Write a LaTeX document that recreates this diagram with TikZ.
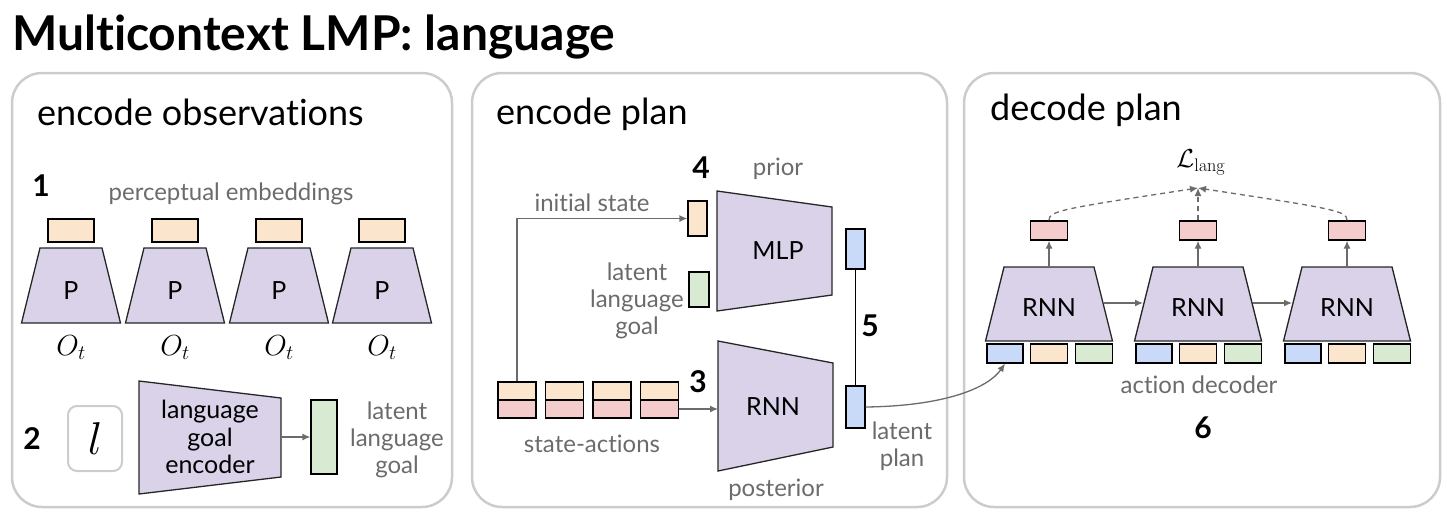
\RequirePackage{fix-cm}
\documentclass[tikz,border=0pt]{standalone}
\usepackage[no-math]{fontspec}
\setmainfont[Ligatures=NoCommon]{Lato}
\usetikzlibrary{arrows.meta}
\definecolor{cpurple}{HTML}{D9D2E9}
\definecolor{corange}{HTML}{FCE5CD}
\definecolor{cpink}{HTML}{F4CCCC}
\definecolor{cgreen}{HTML}{D9EAD3}
\definecolor{cblue}{HTML}{C9DAF8}
\definecolor{cgraytext}{HTML}{6B6B6B}
\definecolor{carrow}{HTML}{6B6B6B}
\definecolor{cpanel}{HTML}{CCCCCC}
\newcommand\mytrapv[5]{\draw[trap] (#1-#4,#2) -- (#1+#4,#2) -- (#1+#5,#3) -- (#1-#5,#3) -- cycle;}
\newcommand\mytraph[6]{\draw[trap] (#1,#3-#5) -- (#2,#4-#6) -- (#2,#4+#6) -- (#1,#3+#5) -- cycle;}
\begin{document}
\begin{tikzpicture}[x=1pt,y=-1pt,
  panel/.style={draw=cpanel,line width=2.5,rounded corners=30},
  box/.style={draw=black,line width=1.3,inner sep=0,minimum width=#1},
  trap/.style={fill=cpurple,draw=black!85,line width=1.3,line join=miter},
  lbl/.style={text=cgraytext,font=\fontsize{24}{27}\selectfont,inner sep=0,align=center},
  head/.style={font=\fontsize{36}{40}\selectfont,inner sep=0,anchor=base west},
  num/.style={font=\bfseries\fontsize{30}{34}\selectfont,inner sep=0},
  intext/.style={font=\fontsize{25}{27.5}\selectfont,inner sep=0,align=center},
  mathlbl/.style={font=\fontsize{29}{32}\selectfont,inner sep=0},
  arr/.style={draw=carrow,line width=1.3,-{Latex[length=8,width=7]}},
  darr/.style={draw=carrow,line width=1.3,dash pattern=on 5pt off 4pt,-{Latex[length=8,width=7]}}
]
\useasboundingbox (0,0) rectangle (1447,512);
% title
\node[font=\bfseries\fontsize{48}{52}\selectfont,inner sep=0,anchor=base west] (title) at (12,50) {Multicontext LMP: language};
% panels
\draw[panel] (12,73) rectangle (452,507);
\draw[panel] (472,73) rectangle (947,507);
\draw[panel] (964,73) rectangle (1440,507);
\node[head] (h1) at (37,125) {encode observations};
\node[head] (h2) at (496,124) {encode plan};
\node[head] (h3) at (990,120) {decode plan};

% ---------- encode observations ----------
\node[num] (n1) at (41,186) {1};
\node[lbl,anchor=base] (pe) at (231,200) {perceptual embeddings};
\foreach \i/\cx in {1/71,2/175,3/279,4/382}{
  \node[box=46,minimum height=23,fill=corange] (e\i) at (\cx,230.5) {};
  \mytrapv{\cx}{248}{323}{31}{49.5}
  \node[intext,anchor=base] (p\i) at (\cx,299) {P};
  \node[mathlbl,anchor=base] (o\i) at (\cx,355) {$O_t$};
}
\node[num] (n2) at (32,439) {2};
\node[draw=cpanel,line width=2,rounded corners=9,minimum width=54,minimum height=65,inner sep=0] (lbox) at (95,438.5) {};
\node[font=\fontsize{46}{50}\selectfont,inner sep=0] (lsym) at (95,439) {$l$};
\mytraph{139}{281}{437.5}{437.5}{56.5}{39.5}
\node[intext,anchor=center] (lge) at (210,437) {language\\goal\\encoder};
\coordinate (lgeR) at (281,437);
\node[box=26,minimum height=74,fill=cgreen] (lg) at (324,437) {};
\draw[arr] (lgeR) -- (lg.west);
\node[lbl] (llg) at (397,440) {latent\\language\\goal};

% ---------- encode plan ----------
\node[num] (n4) at (701,168) {4};
\node[lbl] (prior) at (778,169) {prior};
\node[lbl,anchor=base] (ist) at (592,211) {initial state};
\node[box=19,minimum height=35,fill=corange] (is) at (697.5,218.5) {};
\node[box=20,minimum height=35,fill=cgreen] (lgm) at (699,289.5) {};
\node[lbl] (llg2) at (637,301) {latent\\language\\goal};
\mytraph{717}{832}{251}{251}{60}{44}
\node[intext] (mlp) at (778,251) {MLP};
\mytraph{718}{833}{406}{405}{65}{42}
\node[intext] (rnn0) at (773,407) {RNN};
\coordinate (rnnL) at (718,409);
\node[box=19,minimum height=40,fill=cblue] (bt) at (855.5,249) {};
\node[box=19,minimum height=42,fill=cblue] (bb) at (855.5,407) {};
\draw[black,line width=1.3] (bt.south) -- (bb.north);
\node[num] (n5) at (870,326) {5};
\node[num] (n3) at (698,382) {3};
\foreach \i/\cx in {1/517,2/564.5,3/612,4/659.5}{
  \node[box=38,minimum height=18,fill=corange] (sa\i) at (\cx,391) {};
  \node[box=38,minimum height=18,fill=cpink] (sp\i) at (\cx,409) {};
}
\draw[arr] (sa1.north) |- (is.west);
\draw[arr] (sp4.east) -- (rnnL);
\node[lbl,anchor=base] (sact) at (592,452) {state-actions};
\node[lbl] (lp) at (902,446) {latent\\plan};
\node[lbl,anchor=base] (post) at (776,496) {posterior};

% ---------- decode plan ----------
\node[font=\fontsize{26}{29}\selectfont,inner sep=0] (loss) at (1201,162) {$\mathcal{L}_{\mathrm{lang}}$};
\coordinate (conv) at (1198,188);
\foreach \i/\cx in {1/1049,2/1198,3/1347}{
  \node[box=37,minimum height=19,fill=cpink] (pk\i) at (\cx,230.5) {};
  \mytrapv{\cx}{267}{341}{45}{63.5}
  \coordinate (rt\i) at (\cx,267);
  \node[intext] (rnn\i) at (\cx,308) {RNN};
  \node[box=36,minimum height=19,fill=cblue] (db\i) at (\cx-44,353.5) {};
  \node[box=37,minimum height=19,fill=corange] (do\i) at (\cx,353.5) {};
  \node[box=37,minimum height=19,fill=cgreen] (dg\i) at (\cx+45,353.5) {};
  \draw[arr] (rt\i) -- (pk\i.south);
}
\coordinate (r1R) at (1104,303);
\coordinate (r2L) at (1143,303);
\coordinate (r2R) at (1253,303);
\coordinate (r3L) at (1292,303);
\draw[arr] (r1R) -- (r2L);
\draw[arr] (r2R) -- (r3L);
\draw[darr] (pk1.north) .. controls (1049,211) and (1060,209) .. (conv);
\draw[darr] (pk2.north) -- (conv);
\draw[darr] (pk3.north) .. controls (1347,211) and (1336,209) .. (conv);
\node[lbl,anchor=base] (ad) at (1199,393) {action decoder};
\node[num] (n6) at (1203,428) {6};
\draw[arr] (bb.east) .. controls (945,406) and (988,388) .. (db1.south);
\end{tikzpicture}
\end{document}
